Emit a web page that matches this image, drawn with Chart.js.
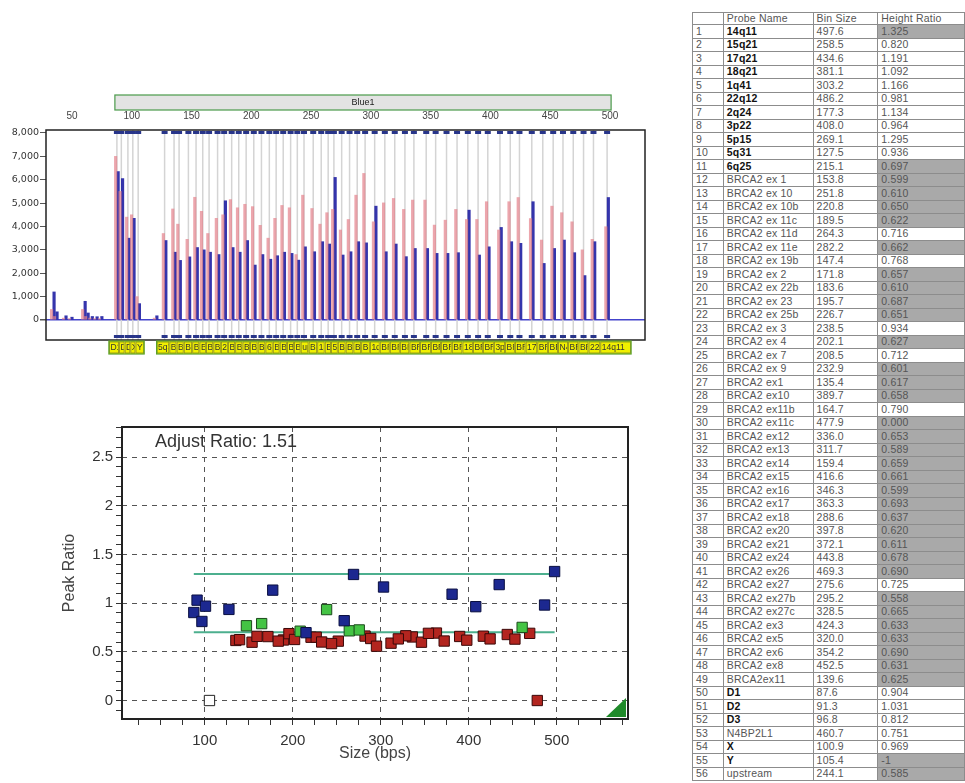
<!DOCTYPE html>
<html>
<head>
<meta charset="utf-8">
<script src="https://cdn.jsdelivr.net/npm/chart.js@4.4.1/dist/chart.umd.min.js"></script>
<style>
  body { margin: 0; width: 965px; height: 783px; overflow: hidden; position: relative; background: #fff;
         font-family: "Liberation Sans", Arial, sans-serif; }
  #peaks { position: absolute; left: 0; top: 85px; }
  #ratio { position: absolute; left: 40px; top: 415px; }
  table { position: absolute; left: 692px; top: 12px; border-collapse: collapse; table-layout: fixed;
          font-size: 10.5px; letter-spacing: 0.2px; color: #555; }
  td { border: 1px solid #8c8c8c; padding: 0 3px; line-height: 11px; white-space: nowrap; overflow: hidden; }
  tr { height: 13.5px; }
  tr.head { height: 12px; }
  td.ref { font-weight: bold; color: #111; }
  td.flag { background: #a9a9a9; }
</style>
</head>
<body>
<canvas id="peaks" width="660" height="280"></canvas>
<canvas id="ratio" width="600" height="368"></canvas>
<table id="probeTable"></table>
<script>
// probe table, in the order the software lists it
const probeNames = [
  '14q11', '15q21', '17q21', '18q21', '1q41', '22q12', '2q24', '3p22', '5p15', '5q31', '6q25',
  'BRCA2 ex 1', 'BRCA2 ex 10', 'BRCA2 ex 10b', 'BRCA2 ex 11c', 'BRCA2 ex 11d', 'BRCA2 ex 11e',
  'BRCA2 ex 19b', 'BRCA2 ex 2', 'BRCA2 ex 22b', 'BRCA2 ex 23', 'BRCA2 ex 25b', 'BRCA2 ex 3',
  'BRCA2 ex 4', 'BRCA2 ex 7', 'BRCA2 ex 9', 'BRCA2 ex1', 'BRCA2 ex10', 'BRCA2 ex11b', 'BRCA2 ex11c',
  'BRCA2 ex12', 'BRCA2 ex13', 'BRCA2 ex14', 'BRCA2 ex15', 'BRCA2 ex16', 'BRCA2 ex17', 'BRCA2 ex18',
  'BRCA2 ex20', 'BRCA2 ex21', 'BRCA2 ex24', 'BRCA2 ex26', 'BRCA2 ex27', 'BRCA2 ex27b', 'BRCA2 ex27c',
  'BRCA2 ex3', 'BRCA2 ex5', 'BRCA2 ex6', 'BRCA2 ex8', 'BRCA2ex11', 'D1', 'D2', 'D3', 'N4BP2L1',
  'X', 'Y', 'upstream',
];
const binSizes = [
  497.6, 258.5, 434.6, 381.1, 303.2, 486.2, 177.3, 408.0, 269.1, 127.5, 215.1,
  153.8, 251.8, 220.8, 189.5, 264.3, 282.2, 147.4, 171.8, 183.6, 195.7, 226.7, 238.5,
  202.1, 208.5, 232.9, 135.4, 389.7, 164.7, 477.9, 336.0, 311.7, 159.4, 416.6, 346.3,
  363.3, 288.6, 397.8, 372.1, 443.8, 469.3, 275.6, 295.2, 328.5, 424.3, 320.0, 354.2,
  452.5, 139.6, 87.6, 91.3, 96.8, 460.7, 100.9, 105.4, 244.1,
];
const heightRatios = [
  1.325, 0.820, 1.191, 1.092, 1.166, 0.981, 1.134, 0.964, 1.295, 0.936, 0.697,
  0.599, 0.610, 0.650, 0.622, 0.716, 0.662, 0.768, 0.657, 0.610, 0.687, 0.651, 0.934,
  0.627, 0.712, 0.601, 0.617, 0.658, 0.790, 0.000, 0.653, 0.589, 0.659, 0.661, 0.599,
  0.693, 0.637, 0.620, 0.611, 0.678, 0.690, 0.725, 0.558, 0.665, 0.633, 0.633, 0.690,
  0.631, 0.625, 0.904, 1.031, 0.812, 0.751, 0.969, -1, 0.585,
];
const referenceProbes = ['14q11', '15q21', '17q21', '18q21', '1q41', '22q12', '2q24', '3p22',
  '5p15', '5q31', '6q25', 'D1', 'D2', 'D3', 'X', 'Y'];

// peak heights (RFU), same order as the table
const sampleHeights = [
  5240, 3350, 5060, 4700, 4870, 3350, 5100, 3960, 6100, 3400, 2600,
  3100, 2920, 2750, 2900, 3250, 2920, 2700, 2800, 3100, 3400, 2900, 2560,
  2350, 2800, 2850, 2900, 2780, 2900, 1900, 3060, 2920, 3000, 3350, 3060,
  2850, 3350, 3130, 2880, 2420, 2880, 2780, 3300, 2710, 3280, 3250, 2850,
  3060, 2550, 6350, 6050, 3500, 3420, 4350, 700, 3130,
];
const controlHeights = [
  3990, 4100, 4340, 4300, 4200, 3450, 4500, 3850, 4730, 3700, 3500,
  5250, 4770, 4350, 4800, 4590, 4300, 3450, 4350, 5150, 4950, 4900, 2800,
  4850, 4050, 4800, 4750, 4300, 3700, 3000, 5130, 5010, 4650, 5060, 5130,
  4270, 5340, 5060, 4730, 3420, 4200, 3850, 6270, 4730, 5240, 5200, 4060,
  4870, 4100, 7000, 5500, 4400, 4590, 4500, 1000, 5340,
];
// small primer / noise peaks ahead of the probes
const primerSizes = [34, 36.5, 44, 49, 60, 62.5, 66, 70, 74, 120];
const primerSample = [1200, 350, 180, 120, 800, 300, 150, 140, 150, 180];
const primerControl = [450, 150, 80, 60, 450, 150, 80, 60, 60, 80];

const sizeTicksTop = [50, 100, 150, 200, 250, 300, 350, 400, 450, 500];
const rfuTicks = [0, 1000, 2000, 3000, 4000, 5000, 6000, 7000, 8000];
const sizeTicks = [100, 200, 300, 400, 500];
const ratioTicks = [0, 0.5, 1, 1.5, 2, 2.5];
const ratioLimits = [0.7, 1.3];
const adjustRatio = 1.51;

Chart.defaults.font.family = "'Liberation Sans', Arial, sans-serif";
Chart.defaults.color = '#333';

const isRef = (i) => referenceProbes.includes(probeNames[i]);
const isFlagged = (r) => r < ratioLimits[0] || r > ratioLimits[1];

// ---------- table ----------
const table = document.getElementById('probeTable');
let html = '<colgroup><col style="width:31px"><col style="width:90px"><col style="width:65px"><col style="width:87px"></colgroup>';
html += '<tr class="head"><td></td><td>Probe Name</td><td>Bin Size</td><td>Height Ratio</td></tr>';
probeNames.forEach((name, i) => {
  const r = heightRatios[i];
  html += `<tr><td>${i + 1}</td><td class="${isRef(i) ? 'ref' : ''}">${name}</td>` +
    `<td>${binSizes[i].toFixed(1)}</td>` +
    `<td class="${isFlagged(r) ? 'flag' : ''}">${r < 0 ? r : r.toFixed(3)}</td></tr>`;
});
table.innerHTML = html;

// ---------- electropherogram ----------
const peakSizes = primerSizes.concat(binSizes);
const allSample = primerSample.concat(sampleHeights);
const allControl = primerControl.concat(controlHeights);
const samplePts = peakSizes.map((s, i) => ({ x: s, y: allSample[i] }));
const controlPts = peakSizes.map((s, i) => ({ x: s, y: allControl[i] }));
const sortedBins = binSizes.map((s, i) => ({ s, name: probeNames[i] })).sort((a, b) => a.s - b.s);

const peakDecor = {
  id: 'peakDecor',
  beforeDatasetsDraw(chart) {
    const { ctx, chartArea: a, scales: { x } } = chart;
    ctx.save();
    ctx.strokeStyle = '#d4d4d4';
    ctx.lineWidth = 1.5;
    sortedBins.forEach((b) => {
      const px = x.getPixelForValue(b.s);
      ctx.beginPath();
      ctx.moveTo(px, a.top);
      ctx.lineTo(px, a.bottom);
      ctx.stroke();
    });
    ctx.restore();
  },
  afterDraw(chart) {
    const { ctx, chartArea: a, scales: { x } } = chart;
    ctx.save();
    // frame
    ctx.strokeStyle = '#222';
    ctx.lineWidth = 1.5;
    ctx.strokeRect(a.left, a.top, a.right - a.left, a.bottom - a.top);
    // bin markers
    ctx.fillStyle = '#28358a';
    sortedBins.forEach((b) => {
      const px = x.getPixelForValue(b.s);
      ctx.fillRect(px - 3, a.top + 1, 6, 3);
      ctx.fillRect(px - 3, a.bottom - 5, 6, 3);
    });
    // dye panel bar
    const p0 = x.getPixelForValue(sortedBins[0].s) - 2;
    const p1 = x.getPixelForValue(sortedBins[sortedBins.length - 1].s) + 4;
    ctx.fillStyle = '#e3e3e3';
    ctx.fillRect(p0, 10, p1 - p0, 15);
    ctx.strokeStyle = '#4a9a4a';
    ctx.lineWidth = 1.2;
    ctx.strokeRect(p0, 10, p1 - p0, 15);
    ctx.fillStyle = '#222';
    ctx.font = "9px 'Liberation Sans', Arial";
    ctx.textAlign = 'center';
    ctx.textBaseline = 'middle';
    ctx.fillText('Blue1', (p0 + p1) / 2, 17.5);
    // probe labels
    const top = a.bottom + 1;
    const h = 13;
    ctx.font = "8.5px 'Liberation Sans', Arial";
    ctx.textAlign = 'left';
    let groupStart = null;
    sortedBins.forEach((b, i) => {
      const px = x.getPixelForValue(b.s);
      const prev = sortedBins[i - 1];
      const next = sortedBins[i + 1];
      const newGroup = !prev || b.s - prev.s > 15;
      const endGroup = !next || next.s - b.s > 15;
      const left = newGroup ? px - 8 : (px + x.getPixelForValue(prev.s)) / 2;
      let right = endGroup ? px + 6 : (px + x.getPixelForValue(next.s)) / 2;
      if (!next) right = px + 24;
      if (newGroup) groupStart = left;
      ctx.fillStyle = '#f0f000';
      ctx.fillRect(left, top, right - left, h);
      ctx.strokeStyle = '#8b8b20';
      ctx.lineWidth = 0.8;
      ctx.strokeRect(left + 0.5, top + 1, right - left - 1, h - 2);
      ctx.save();
      ctx.beginPath();
      ctx.rect(left + 1, top, right - left - 2, h);
      ctx.clip();
      ctx.fillStyle = '#333';
      ctx.fillText(b.name, left + 1.5, top + h / 2 + 0.5);
      ctx.restore();
      if (endGroup) {
        ctx.strokeStyle = '#5aa02a';
        ctx.lineWidth = 1.2;
        ctx.strokeRect(groupStart, top, right - groupStart, h);
      }
    });
    ctx.restore();
  },
};

new Chart(document.getElementById('peaks'), {
  type: 'bar',
  data: {
    datasets: [
      {
        label: 'Control',
        data: controlPts,
        backgroundColor: 'rgba(228, 128, 138, 0.7)',
        barThickness: 2.5,
      },
      {
        label: 'Sample',
        data: samplePts,
        backgroundColor: 'rgba(36, 36, 165, 0.92)',
        barThickness: 2.5,
      },
    ],
  },
  options: {
    responsive: false,
    animation: false,
    layout: { padding: { left: 0, right: 15, top: 0, bottom: 25 } },
    plugins: { legend: { display: false }, tooltip: { enabled: false } },
    scales: {
      x: {
        type: 'linear',
        position: 'top',
        offset: false,
        min: 28.3,
        max: 529.3,
        afterBuildTicks: (s) => { s.ticks = sizeTicksTop.map((v) => ({ value: v })); },
        afterFit: (s) => { s.height = 45; },
        grid: { display: false, drawTicks: false, offset: false },
        border: { display: false },
        ticks: { font: { size: 10 }, color: '#444', padding: 8, maxRotation: 0 },
      },
      y: {
        min: -856,
        max: 8128,
        afterBuildTicks: (s) => { s.ticks = rfuTicks.map((v) => ({ value: v })); },
        afterFit: (s) => { s.width = 46; },
        border: { display: false },
        grid: {
          color: (c) => (c.tick && c.tick.value === 0 ? '#4444cc' : 'rgba(0,0,0,0)'),
          lineWidth: (c) => (c.tick && c.tick.value === 0 ? 1.5 : 1),
          tickColor: '#555',
          tickLength: 6,
        },
        ticks: {
          font: { family: "'DejaVu Sans', sans-serif", size: 9.5 },
          color: '#333',
          padding: 1,
          callback: (v) => v.toLocaleString('en-US'),
        },
      },
    },
  },
  plugins: [peakDecor],
});

// ---------- peak ratio plot ----------
const binMin = Math.min(...binSizes);
const binMax = Math.max(...binSizes);
const pointSets = { ref: [], low: [], ok: [], none: [] };
binSizes.forEach((s, i) => {
  const r = heightRatios[i];
  if (r < 0) pointSets.none.push({ x: s, y: 0 });
  else if (isRef(i)) pointSets.ref.push({ x: s, y: r });
  else if (isFlagged(r)) pointSets.low.push({ x: s, y: r });
  else pointSets.ok.push({ x: s, y: r });
});
const near = (v, list) => list.some((t) => Math.abs(t - v) < 1e-6);
// minor tick marks: every 25 bp on x, every 0.1 on y
const minorTicks = (lo, hi, step) => {
  const out = [];
  for (let k = Math.ceil(lo / step); k * step <= hi; k++) out.push({ value: Number((k * step).toFixed(4)) });
  return out;
};
const pointStyleOf = (fill, edge) => ({
  pointStyle: 'rect', pointRadius: 7.3, pointHoverRadius: 7.3,
  backgroundColor: fill, borderColor: edge, borderWidth: 1,
});

const ratioDecor = {
  id: 'ratioDecor',
  afterDraw(chart) {
    const { ctx, chartArea: a } = chart;
    ctx.save();
    ctx.strokeStyle = '#222';
    ctx.lineWidth = 2;
    ctx.strokeRect(a.left, a.top, a.right - a.left, a.bottom - a.top);
    ctx.fillStyle = '#333';
    ctx.font = "18px 'Liberation Sans', Arial";
    ctx.textBaseline = 'middle';
    ctx.fillText(`Adjust Ratio: ${adjustRatio}`, a.left + 33, a.top + 15);
    ctx.fillStyle = '#1f8a2a';
    ctx.beginPath();
    ctx.moveTo(a.right - 22, a.bottom - 2);
    ctx.lineTo(a.right - 2, a.bottom - 2);
    ctx.lineTo(a.right - 2, a.bottom - 21);
    ctx.closePath();
    ctx.fill();
    ctx.restore();
  },
};

new Chart(document.getElementById('ratio'), {
  type: 'scatter',
  data: {
    datasets: [
      { label: 'Reference', data: pointSets.ref, ...pointStyleOf('#1c2890', '#0a0f40') },
      { label: 'Normal', data: pointSets.ok, ...pointStyleOf('#44c444', '#1c4a1c') },
      { label: 'Deleted', data: pointSets.low, ...pointStyleOf('#b3251f', '#3a0808') },
      { label: 'No call', data: pointSets.none, ...pointStyleOf('#ffffff', '#222222') },
      {
        label: 'Upper', type: 'line',
        data: [{ x: binMin, y: ratioLimits[1] }, { x: binMax, y: ratioLimits[1] }],
        borderColor: '#4caf8e', borderWidth: 2, pointRadius: 0,
      },
      {
        label: 'Lower', type: 'line',
        data: [{ x: binMin, y: ratioLimits[0] }, { x: binMax, y: ratioLimits[0] }],
        borderColor: '#4caf8e', borderWidth: 2, pointRadius: 0,
      },
    ],
  },
  options: {
    responsive: false,
    animation: false,
    layout: { padding: { left: 16, right: 12, top: 12, bottom: 20 } },
    plugins: { legend: { display: false }, tooltip: { enabled: false } },
    scales: {
      x: {
        type: 'linear',
        min: 6,
        max: 581,
        afterBuildTicks: (s) => { s.ticks = minorTicks(s.min, s.max, 25); },
        afterFit: (s) => { s.height = 44; },
        grid: {
          color: (c) => (c.tick && near(c.tick.value, sizeTicks) ? '#555' : 'rgba(0,0,0,0)'),
          borderDash: [5, 5],
          tickColor: '#333',
          tickLength: 6,
        },
        border: { display: false, dash: [5, 5] },
        ticks: {
          autoSkip: false,
          maxRotation: 0,
          font: { size: 15, lineHeight: 1 },
          color: '#333',
          padding: 8,
          callback: (v) => (near(v, sizeTicks) ? String(v) : ''),
        },
        title: { display: true, text: 'Size (bps)', font: { size: 16 }, color: '#444', padding: { top: 0, bottom: 0 } },
      },
      y: {
        min: -0.19,
        max: 2.81,
        afterBuildTicks: (s) => { s.ticks = minorTicks(s.min, s.max, 0.1); },
        afterFit: (s) => { s.width = 66; },
        grid: {
          color: (c) => (c.tick && near(c.tick.value, ratioTicks) ? '#555' : 'rgba(0,0,0,0)'),
          borderDash: [5, 5],
          tickColor: '#333',
          tickLength: 6,
        },
        border: { display: false, dash: [5, 5] },
        ticks: {
          autoSkip: false,
          font: { size: 15 },
          color: '#333',
          padding: 3,
          callback: (v) => (near(v, ratioTicks) ? String(Number(v.toFixed(1))) : ''),
        },
        title: { display: true, text: 'Peak Ratio', font: { size: 16 }, color: '#444', padding: 4 },
      },
    },
  },
  plugins: [ratioDecor],
});
</script>
</body>
</html>
